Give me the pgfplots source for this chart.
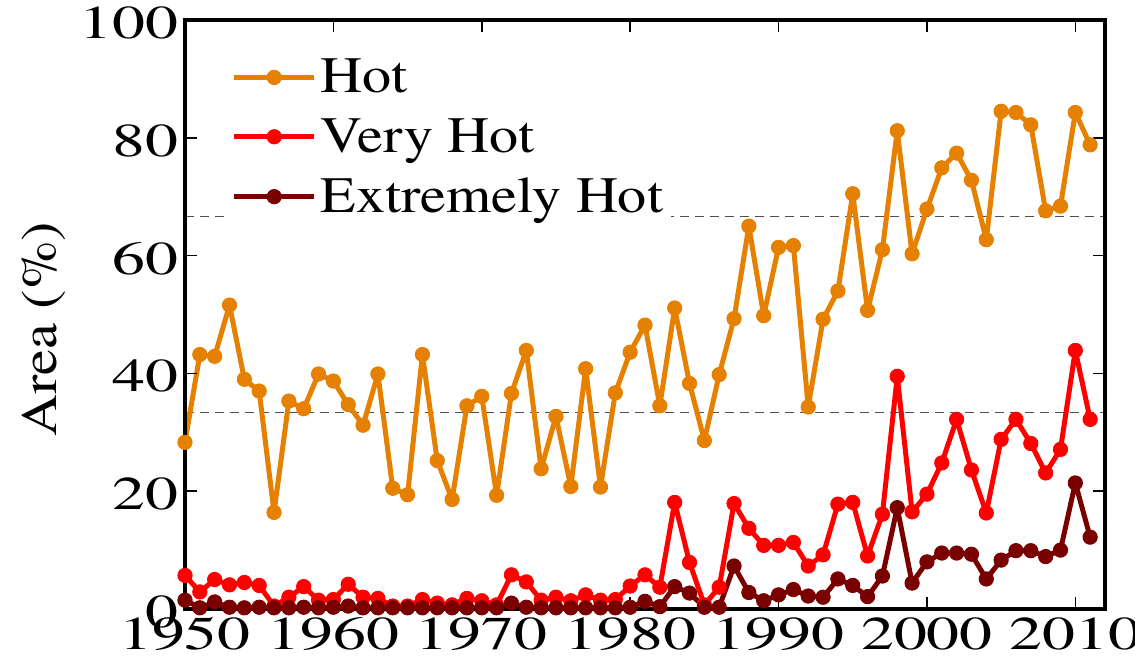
\documentclass[border=0pt]{standalone}
\usepackage{fontspec}
\setmainfont{texgyretermes}[Extension=.otf, UprightFont=*-regular, BoldFont=*-bold, FakeStretch=1.14]
\newfontfamily\tickfamily{texgyretermes}[Extension=.otf, UprightFont=*-regular, FakeStretch=1.4]
\usepackage{pgfplots}
\usepackage{pgfplotstable}
\pgfplotsset{compat=1.18}

\definecolor{hot}{RGB}{229,128,0}
\definecolor{vhot}{RGB}{255,0,0}
\definecolor{xhot}{RGB}{122,0,0}
\definecolor{refline}{RGB}{80,80,80}

% Share of area (%) in each heat class, per year
\pgfplotstableread{
year hot vhot xhot
1950 28.3 5.7 1.5
1951 43.2 2.9 0.2
1952 42.9 5.0 1.2
1953 51.6 4.1 0.3
1954 39.0 4.5 0.2
1955 37.0 4.0 0.3
1956 16.4 0.5 0.2
1957 35.3 2.0 0.2
1958 34.0 3.8 0.3
1959 39.9 1.5 0.2
1960 38.7 1.6 0.3
1961 34.7 4.2 0.5
1962 31.2 2.0 0.2
1963 39.9 1.8 0.2
1964 20.5 0.5 0.2
1965 19.4 0.5 0.2
1966 43.2 1.6 0.2
1967 25.2 1.0 0.2
1968 18.6 0.7 0.2
1969 34.5 1.8 0.2
1970 36.1 1.4 0.2
1971 19.3 0.7 0.2
1972 36.6 5.8 1.0
1973 43.9 4.6 0.3
1974 23.8 1.5 0.2
1975 32.7 2.0 0.2
1976 20.8 1.4 0.2
1977 40.8 2.4 0.2
1978 20.7 1.5 0.2
1979 36.7 1.6 0.2
1980 43.6 3.9 0.3
1981 48.2 5.8 1.3
1982 34.5 3.7 0.4
1983 51.1 18.1 3.8
1984 38.3 7.9 2.7
1985 28.6 0.7 0.3
1986 39.8 3.7 0.3
1987 49.3 17.9 7.3
1988 65.0 13.7 2.8
1989 49.8 10.8 1.4
1990 61.4 10.8 2.4
1991 61.7 11.3 3.3
1992 34.3 7.3 2.2
1993 49.2 9.2 2.0
1994 54.0 17.8 5.1
1995 70.5 18.1 4.0
1996 50.7 9.0 2.1
1997 61.0 16.1 5.6
1998 81.2 39.5 17.2
1999 60.3 16.5 4.4
2000 67.9 19.5 8.0
2001 74.9 24.8 9.5
2002 77.4 32.2 9.5
2003 72.8 23.6 9.3
2004 62.7 16.3 5.1
2005 84.5 28.8 8.3
2006 84.3 32.2 9.9
2007 82.2 28.1 9.9
2008 67.6 23.1 8.9
2009 68.4 27.1 10.0
2010 84.3 43.9 21.4
2011 78.8 32.2 12.2
}\heatdata

\newcommand{\bigfont}{\fontsize{25.5}{30}\selectfont}
\newcommand{\tickfont}{\tickfamily\fontsize{23.5}{28}\selectfont}

\begin{document}
\begin{tikzpicture}
\begin{axis}[
  name=ax,
  scale only axis,
  width=460pt, height=294.5pt,
  xmin=1950, xmax=2012, ymin=0, ymax=100,
  xtick={1950,1960,...,2010},
  ytick={0,20,...,100},
  tick align=inside,
  major tick length=6pt,
  every tick/.style={black, line width=0.8pt},
  axis line style={line width=2.4pt},
  axis on top,
  clip=false,
  /pgf/number format/assume math mode=true,
  tick label style={font=\tickfont},
  xticklabel style={/pgf/number format/1000 sep={}, inner ysep=0pt, yshift=-4pt},
  yticklabel style={inner ysep=0pt, yshift=-1.5pt},
  label style={font=\bigfont},
  ylabel={Area (\%)},
  ylabel style={at={(ticklabel cs:0.475)}},
  legend style={
    at={(rel axis cs:0.046,0.948)}, anchor=north west,
    draw=none, fill=white,
    inner xsep=2pt, inner ysep=2pt,
    row sep=7.3pt,
    font=\bigfont,
    cells={anchor=west},
  },
  legend image code/.code={%
    \draw[#1, mark repeat=2, mark phase=2]
      plot coordinates {(0pt,0pt) (20pt,0pt) (40pt,0pt)};},
  every axis plot/.append style={line width=2.5pt, line join=round,
    mark=*, mark size=3.6pt, mark options={solid, line width=0.4pt}},
]
% one-third and two-thirds reference levels
\addplot[forget plot, refline, line width=0.8pt, dash pattern=on 4.5pt off 3pt, mark=none]
  coordinates {(1950,33.33) (2012,33.33)};
\addplot[forget plot, refline, line width=0.8pt, dash pattern=on 4.5pt off 3pt, mark=none]
  coordinates {(1950,66.67) (2012,66.67)};

\addplot[hot]  table[x=year, y=hot]  {\heatdata};
\addplot[vhot] table[x=year, y=vhot] {\heatdata};
\addplot[xhot] table[x=year, y=xhot] {\heatdata};
\legend{Hot, Very Hot, Extremely Hot}
\end{axis}
\pgfresetboundingbox
\path[use as bounding box] ([xshift=-92.5pt, yshift=-30pt]ax.south west)
  rectangle ([xshift=15pt, yshift=10pt]ax.north east);
\end{tikzpicture}
\end{document}
